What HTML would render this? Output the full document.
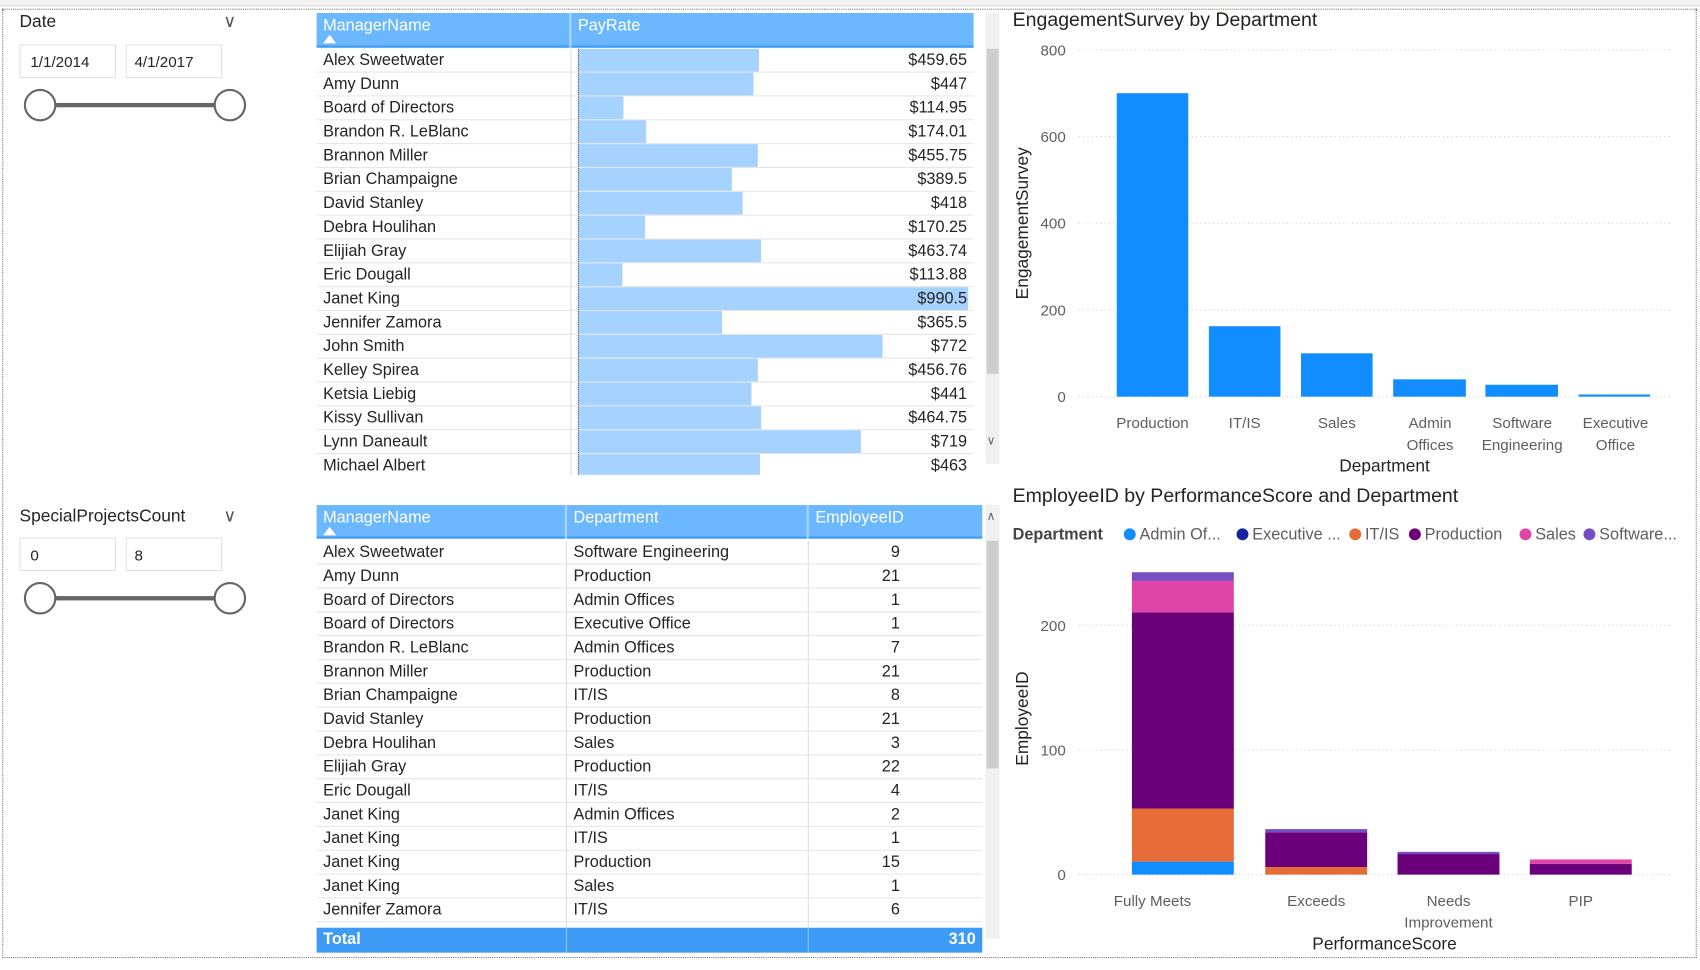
<!DOCTYPE html>
<html><head><meta charset="utf-8"><style>
*{margin:0;padding:0;box-sizing:border-box}
body{width:1700px;height:970px;background:#fff;overflow:hidden;font-family:"Liberation Sans",sans-serif}
#s{position:absolute;left:0;top:0;width:1568px;height:895px;transform:scale(1.0842,1.0838);transform-origin:0 0;color:#252423}
.a{position:absolute}
.t{font-size:15px;white-space:nowrap}
.row{position:absolute;height:22px;border-bottom:1px solid #e6e6e6;font-size:15px;line-height:21px}
.hd{position:absolute;background:#6cb8ff;color:#fff;font-size:15px}
</style></head><body><div id="s">
<div class="a" style="left:0;top:0;width:1568px;height:6px;background:#f3f2f1;border-bottom:1px solid #ddd"></div>
<div class="a" style="left:2px;top:8px;width:1563px;height:876px;border:1px dotted #777"></div>

<div class="a t" style="left:18px;top:12px;font-size:16px">Date</div>
<div class="a t" style="left:206px;top:10px;font-size:16px;color:#555">&#8744;</div>
<div class="a" style="left:18px;top:41px;width:89px;height:31px;border:1px solid #e1e1e1;font-size:14px;padding:7px 9px">1/1/2014</div>
<div class="a" style="left:116px;top:41px;width:89px;height:31px;border:1px solid #e1e1e1;font-size:14px;padding:7px 7px">4/1/2017</div>
<div class="a" style="left:36px;top:95px;width:176px;height:4px;background:#666"></div>
<div class="a" style="left:22px;top:82px;width:30px;height:30px;border:2px solid #666;border-radius:50%;background:#fff"></div>
<div class="a" style="left:197px;top:82px;width:30px;height:30px;border:2px solid #666;border-radius:50%;background:#fff"></div>

<div class="a t" style="left:18px;top:468px;font-size:16px">SpecialProjectsCount</div>
<div class="a t" style="left:206px;top:466px;font-size:16px;color:#555">&#8744;</div>
<div class="a" style="left:18px;top:496px;width:89px;height:31px;border:1px solid #e1e1e1;font-size:14px;padding:7px 9px">0</div>
<div class="a" style="left:116px;top:496px;width:89px;height:31px;border:1px solid #e1e1e1;font-size:14px;padding:7px 7px">8</div>
<div class="a" style="left:36px;top:550px;width:176px;height:4px;background:#666"></div>
<div class="a" style="left:22px;top:537px;width:30px;height:30px;border:2px solid #666;border-radius:50%;background:#fff"></div>
<div class="a" style="left:197px;top:537px;width:30px;height:30px;border:2px solid #666;border-radius:50%;background:#fff"></div>

<div class="hd" style="left:292px;top:12px;width:606px;height:32px;border-bottom:2px solid #3d9bf5"></div>
<div class="a t" style="left:298px;top:15px;color:#fff">ManagerName</div>
<div class="a" style="left:298px;top:32px;width:0;height:0;border-left:6px solid transparent;border-right:6px solid transparent;border-bottom:8px solid #fff"></div>
<div class="a" style="left:525px;top:12px;width:2px;height:32px;background:#a9d4ff"></div>
<div class="a t" style="left:533px;top:15px;color:#fff">PayRate</div>
<div id="t1" class="a" style="left:292px;top:45px;width:606px;height:393px;overflow:hidden"></div>
<div class="a" style="left:526px;top:45px;width:1px;height:393px;background:#ddd"></div>
<div class="a" style="left:909px;top:12px;width:13px;height:416px;background:#f0f0f0"></div>
<div class="a" style="left:910px;top:45px;width:11px;height:300px;background:#cdcdcd"></div>
<div class="a t" style="left:910px;top:400px;font-size:11px;color:#666">&#8744;</div>

<div class="hd" style="left:292px;top:466px;width:614px;height:31px;border-bottom:2px solid #3d9bf5"></div>
<div class="a t" style="left:298px;top:469px;color:#fff">ManagerName</div>
<div class="a" style="left:298px;top:486px;width:0;height:0;border-left:6px solid transparent;border-right:6px solid transparent;border-bottom:8px solid #fff"></div>
<div class="a" style="left:521px;top:466px;width:2px;height:31px;background:#a9d4ff"></div>
<div class="a t" style="left:529px;top:469px;color:#fff">Department</div>
<div class="a" style="left:744px;top:466px;width:2px;height:31px;background:#a9d4ff"></div>
<div class="a t" style="left:752px;top:469px;color:#fff">EmployeeID</div>
<div id="t2" class="a" style="left:292px;top:499px;width:614px;height:352px;overflow:hidden"></div>
<div class="a" style="left:522px;top:499px;width:1px;height:380px;background:#ddd"></div>
<div class="a" style="left:745px;top:499px;width:1px;height:380px;background:#ddd"></div>
<div class="a" style="left:292px;top:856px;width:614px;height:23px;background:#3d9bf5"></div>
<div class="a" style="left:522px;top:856px;width:1px;height:23px;background:#8cc5ff"></div>
<div class="a" style="left:745px;top:856px;width:1px;height:23px;background:#8cc5ff"></div>
<div class="a t" style="left:298px;top:858px;color:#fff;font-weight:bold">Total</div>
<div class="a t" style="left:860px;top:858px;width:40px;text-align:right;color:#fff;font-weight:bold">310</div>
<div class="a" style="left:909px;top:466px;width:13px;height:400px;background:#f0f0f0"></div>
<div class="a" style="left:910px;top:499px;width:11px;height:210px;background:#cdcdcd"></div>
<div class="a t" style="left:910px;top:470px;font-size:11px;color:#666">&#8743;</div>

<svg class="a" style="left:0;top:0" width="1568" height="895" font-family="Liberation Sans, sans-serif">
<text x="934" y="24" font-size="18" fill="#252423">EngagementSurvey by Department</text>
<g stroke="#ccc" stroke-dasharray="1,3">
<line x1="995" x2="1540" y1="46" y2="46"/><line x1="995" x2="1540" y1="126" y2="126"/><line x1="995" x2="1540" y1="206" y2="206"/><line x1="995" x2="1540" y1="286" y2="286"/><line x1="995" x2="1540" y1="366" y2="366"/>
<line x1="995" x2="1540" y1="577" y2="577"/><line x1="995" x2="1540" y1="692" y2="692"/><line x1="995" x2="1540" y1="807" y2="807"/>
</g>
<g font-size="14" fill="#605e5c" text-anchor="end">
<text x="983" y="51">800</text><text x="983" y="131">600</text><text x="983" y="211">400</text><text x="983" y="291">200</text><text x="983" y="371">0</text>
<text x="983" y="582">200</text><text x="983" y="697">100</text><text x="983" y="812">0</text>
</g>
<g fill="#118dff">
<rect x="1030" y="86" width="66" height="280"/><rect x="1115" y="301" width="66" height="65"/><rect x="1200" y="326" width="66" height="40"/><rect x="1285" y="350" width="67" height="16"/><rect x="1370" y="355" width="67" height="11"/><rect x="1456" y="364" width="66" height="2"/>
</g>
<g font-size="14" fill="#605e5c" text-anchor="middle">
<text x="1063" y="395">Production</text><text x="1148" y="395">IT/IS</text><text x="1233" y="395">Sales</text><text x="1319" y="395">Admin</text><text x="1319" y="415">Offices</text><text x="1404" y="395">Software</text><text x="1404" y="415">Engineering</text><text x="1490" y="395">Executive</text><text x="1490" y="415">Office</text>
<text x="1063" y="836">Fully Meets</text><text x="1214" y="836">Exceeds</text><text x="1336" y="836">Needs</text><text x="1336" y="856">Improvement</text><text x="1458" y="836">PIP</text>
</g>
<g font-size="16" fill="#252423" text-anchor="middle">
<text x="1277" y="435">Department</text><text x="1277" y="876">PerformanceScore</text>
<text transform="translate(948,206) rotate(-90)">EngagementSurvey</text>
<text transform="translate(948,663) rotate(-90)">EmployeeID</text>
</g>
<text x="934" y="463" font-size="18" fill="#252423">EmployeeID by PerformanceScore and Department</text>
<g font-size="15" fill="#605e5c">
<text x="934" y="498" font-weight="bold" fill="#444">Department</text>
<circle cx="1042" cy="493" r="5.5" fill="#118dff"/><text x="1051" y="498">Admin Of...</text>
<circle cx="1146" cy="493" r="5.5" fill="#12239e"/><text x="1155" y="498">Executive ...</text>
<circle cx="1250" cy="493" r="5.5" fill="#e66c37"/><text x="1259" y="498">IT/IS</text>
<circle cx="1305" cy="493" r="5.5" fill="#6b007b"/><text x="1314" y="498">Production</text>
<circle cx="1407" cy="493" r="5.5" fill="#e044a7"/><text x="1416" y="498">Sales</text>
<circle cx="1466" cy="493" r="5.5" fill="#744ec2"/><text x="1475" y="498">Software...</text>
</g>
<rect x="1044" y="795" width="94" height="12" fill="#118dff"/>
<rect x="1044" y="746" width="94" height="49" fill="#e66c37"/>
<rect x="1044" y="565" width="94" height="181" fill="#6b007b"/>
<rect x="1044" y="536" width="94" height="29" fill="#e044a7"/>
<rect x="1044" y="528" width="94" height="8" fill="#744ec2"/>
<rect x="1167" y="800" width="94" height="7" fill="#e66c37"/>
<rect x="1167" y="768" width="94" height="32" fill="#6b007b"/>
<rect x="1167" y="765" width="94" height="3" fill="#744ec2"/>
<rect x="1289" y="788" width="94" height="19" fill="#6b007b"/>
<rect x="1289" y="786" width="94" height="2" fill="#744ec2"/>
<rect x="1411" y="797" width="94" height="10" fill="#6b007b"/>
<rect x="1411" y="793" width="94" height="4" fill="#e044a7"/>
</svg>
</div>
<script>
var d1=[["Alex Sweetwater","$459.65",459.65],["Amy Dunn","$447",447],["Board of Directors","$114.95",114.95],["Brandon R. LeBlanc","$174.01",174.01],["Brannon Miller","$455.75",455.75],["Brian Champaigne","$389.5",389.5],["David Stanley","$418",418],["Debra Houlihan","$170.25",170.25],["Elijiah Gray","$463.74",463.74],["Eric Dougall","$113.88",113.88],["Janet King","$990.5",990.5],["Jennifer Zamora","$365.5",365.5],["John Smith","$772",772],["Kelley Spirea","$456.76",456.76],["Ketsia Liebig","$441",441],["Kissy Sullivan","$464.75",464.75],["Lynn Daneault","$719",719],["Michael Albert","$463",463]];
var h="";d1.forEach(function(r,i){var w=r[2]/990.5*360;h+='<div class="row" style="left:0;top:'+(i*22)+'px;width:606px"><span style="position:absolute;left:6px">'+r[0]+'</span><div style="position:absolute;left:241px;top:0;width:'+w+'px;height:21px;background:#a6d2ff"></div><div style="position:absolute;left:241px;top:0;width:0;height:21px;border-left:1px dotted #555"></div><span style="position:absolute;right:6px">'+r[1]+'</span></div>';});
document.getElementById("t1").innerHTML=h;
var d2=[["Alex Sweetwater","Software Engineering",9],["Amy Dunn","Production",21],["Board of Directors","Admin Offices",1],["Board of Directors","Executive Office",1],["Brandon R. LeBlanc","Admin Offices",7],["Brannon Miller","Production",21],["Brian Champaigne","IT/IS",8],["David Stanley","Production",21],["Debra Houlihan","Sales",3],["Elijiah Gray","Production",22],["Eric Dougall","IT/IS",4],["Janet King","Admin Offices",2],["Janet King","IT/IS",1],["Janet King","Production",15],["Janet King","Sales",1],["Jennifer Zamora","IT/IS",6]];
h="";d2.forEach(function(r,i){h+='<div class="row" style="left:0;top:'+(i*22)+'px;width:614px"><span style="position:absolute;left:6px">'+r[0]+'</span><span style="position:absolute;left:237px">'+r[1]+'</span><span style="position:absolute;right:76px">'+r[2]+'</span></div>';});
document.getElementById("t2").innerHTML=h;
</script>
</body></html>
